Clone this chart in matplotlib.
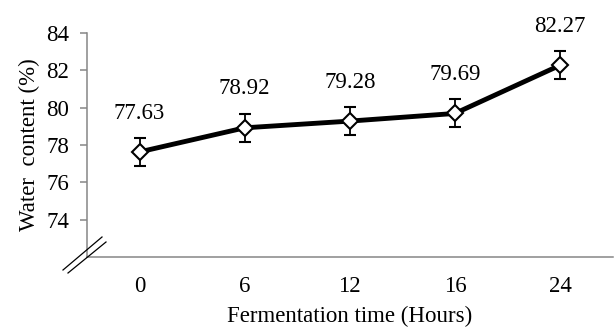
import matplotlib
matplotlib.use('Agg')
import matplotlib.pyplot as plt
from matplotlib.lines import Line2D

plt.rcParams['font.family'] = ['Liberation Serif', 'DejaVu Serif']

# data
times = ['0', '6', '12', '16', '24']
water = [77.63, 78.92, 79.28, 79.69, 82.27]
err = [0.75, 0.75, 0.75, 0.75, 0.75]
yticks = [74, 76, 78, 80, 82, 84]

fs = 16.5
fig = plt.figure(figsize=(6.14, 3.31), dpi=100)
ax = fig.add_axes([0.1417, 0.2236, 0.8559, 0.6767])

x = list(range(len(times)))
ax.errorbar(x, water, yerr=err, color='black', lw=3.5, ecolor='black',
            elinewidth=1.3, capsize=4.3, capthick=1.3,
            marker='D', ms=8.5, mfc='white', mec='black', mew=1.5, zorder=3)

for xi, v in zip(x, water):
    ax.annotate('%.2f' % v, (xi, v), xytext=(0, 28), textcoords='offset points',
                ha='center', va='center', fontsize=fs)

ax.set_xlim(-0.5, 4.5)
ax.set_ylim(72, 84)
ax.set_xticks(x)
ax.set_xticklabels(times)
ax.set_yticks(yticks)

for s in ['top', 'right']:
    ax.spines[s].set_visible(False)
for s in ['left', 'bottom']:
    ax.spines[s].set_color('#868686')
    ax.spines[s].set_linewidth(1.1)

ax.tick_params(axis='x', length=0, pad=14, labelsize=fs)
ax.tick_params(axis='y', length=5, width=1.1, color='#868686', pad=8, labelsize=fs)

ax.set_xlabel('Fermentation time (Hours)', fontsize=fs, labelpad=6)
ax.set_ylabel('Water  content (%)', fontsize=fs, labelpad=4)

# axis break marks
for (x0, y0, x1, y1) in [(63, 270, 102, 237), (68, 273, 106, 242)]:
    fig.add_artist(Line2D([x0 / 614, x1 / 614], [1 - y0 / 331, 1 - y1 / 331],
                          color='black', lw=0.9))

fig.savefig('out.png', dpi=100)
